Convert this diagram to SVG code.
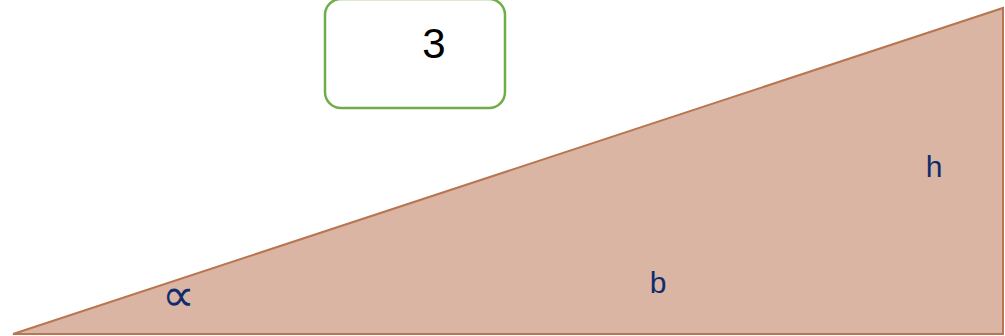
<svg xmlns="http://www.w3.org/2000/svg" width="1005" height="336" viewBox="0 0 1005 336">
<style>
.lbl{font-family:"Liberation Sans",Arial,sans-serif;fill:#102c6c;font-size:30px}
</style>
<rect width="1005" height="336" fill="#ffffff"/>
<g id="triangle">
<polygon points="13,334 1003,8 1003,334" fill="#dab5a3" stroke="#b87550" stroke-width="2" stroke-linejoin="miter"/>
</g>
<g id="box3">
<rect x="325" y="-1" width="180" height="109" rx="16" ry="16" fill="#ffffff" stroke="#70ad47" stroke-width="2.5"/>
<text x="434" y="58" font-family="Liberation Sans, Arial, sans-serif" font-size="42" text-anchor="middle" fill="#000000">3</text>
</g>
<g id="labels">
<text class="lbl" x="178" y="311" text-anchor="middle" style="font-size:46px">∝</text>
<text class="lbl" x="658" y="293" text-anchor="middle">b</text>
<text class="lbl" x="934" y="177" text-anchor="middle">h</text>
</g>
</svg>
